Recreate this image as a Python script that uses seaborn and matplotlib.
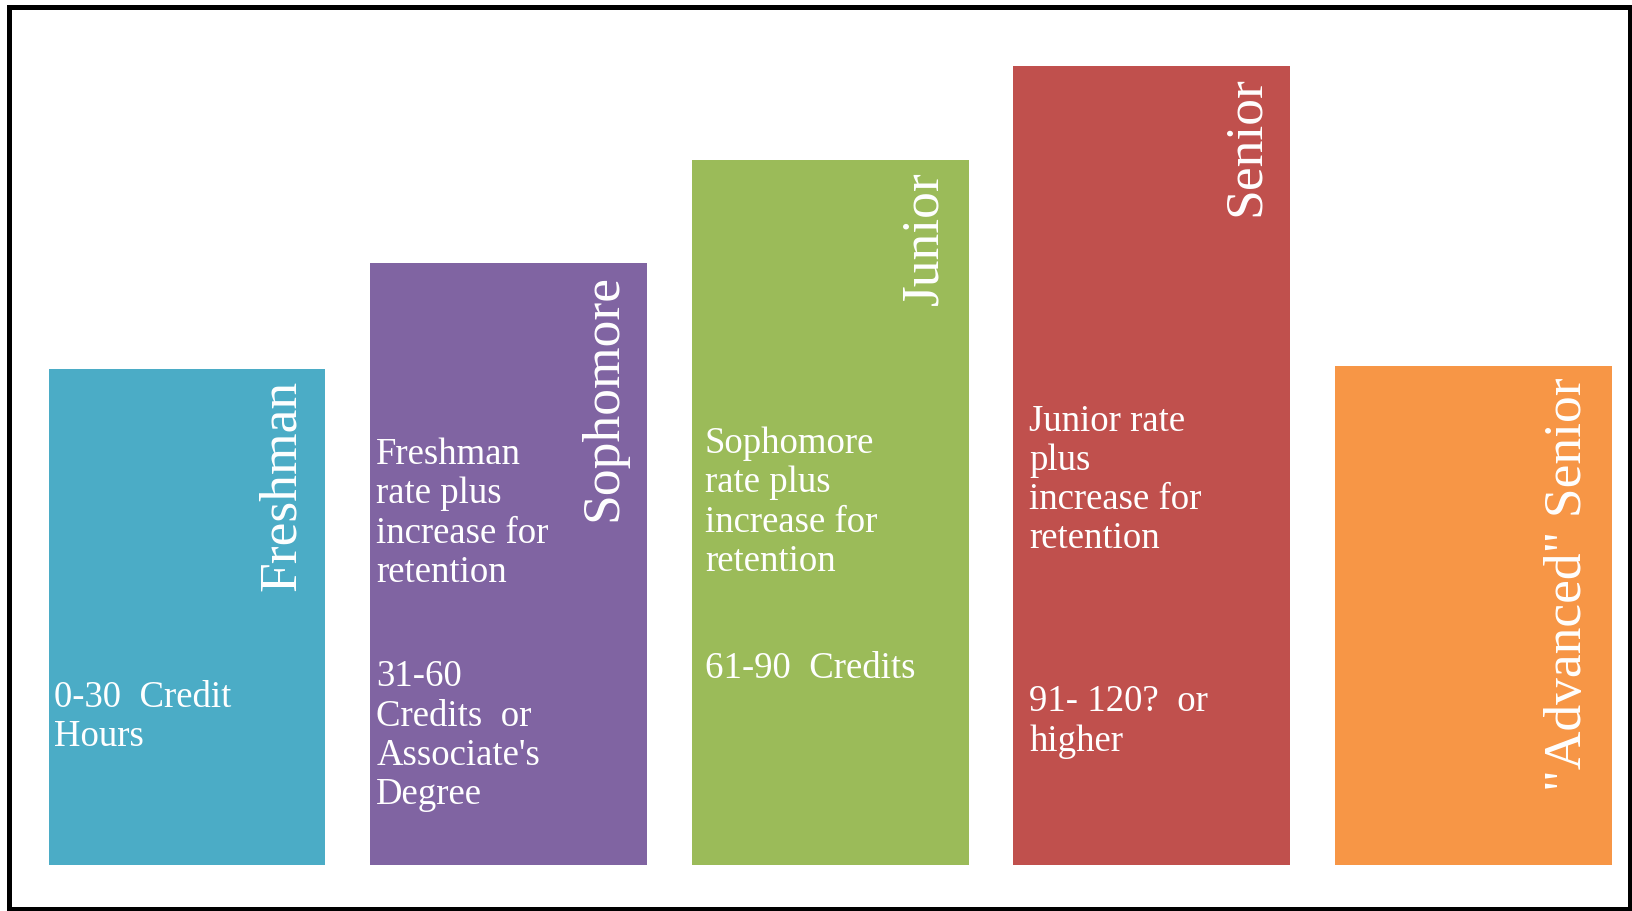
import matplotlib
matplotlib.use('Agg')
import matplotlib.pyplot as plt
from matplotlib.patches import Rectangle
import seaborn as sns
import pandas as pd

# Class standing blocks, height relative to the tallest block (= 100)
levels = ['Freshman', 'Sophomore', 'Junior', 'Senior', '"Advanced" Senior']
heights = [62.0, 75.3, 88.2, 100.0, 62.4]
colors = ['#4BACC6', '#8064A2', '#9BBB59', '#C0504D', '#F79646']

# Notes written inside each block
rate_notes = ['',
              'Freshman\nrate plus\nincrease for\nretention',
              'Sophomore\nrate plus\nincrease for\nretention',
              'Junior rate\nplus\nincrease for\nretention',
              '']
credit_notes = ['0-30  Credit\nHours',
                "31-60\nCredits  or\nAssociate's\nDegree",
                '61-90  Credits',
                '91- 120?  or\nhigher',
                '']

# layout of the notes (baseline height of the last line, left padding in px)
rate_y = [None, 35.4, 36.8, 39.6, None]
credit_y = [14.9, 7.6, 23.4, 14.3, None]
note_pad = [5, 6, 13, 16, 0]

W, H, DPI = 1632, 911, 100
PT = 72 / DPI  # points per pixel
bar_w = 0.861

sns.set_style('white')
plt.rcParams['font.family'] = ['Liberation Serif', 'DejaVu Serif']

df = pd.DataFrame({'level': levels, 'height': heights})

fig = plt.figure(figsize=(W / DPI, H / DPI), dpi=DPI)
ax = fig.add_axes([0, 0, 1, 1])
sns.barplot(data=df, x='level', y='height', hue='level', palette=colors,
            order=levels, hue_order=levels, width=bar_w, saturation=1,
            legend=False, linewidth=0, ax=ax)

ax.set_xlim(-0.5815, 4.493)
ax.set_ylim(-5.75, 108.2)
ax.axis('off')

for i, (name, h) in enumerate(zip(levels, heights)):
    # vertical title in the top right corner of the block
    ax.annotate(name, xy=(i + bar_w / 2, h), xytext=(-31 * PT, -11 * PT),
                textcoords='offset points', rotation=90, rotation_mode='anchor',
                ha='right', va='baseline', color='white', fontsize=38.5)
    for text, y in ((rate_notes[i], rate_y[i]), (credit_notes[i], credit_y[i])):
        if text:
            ax.annotate(text, xy=(i - bar_w / 2, y), xytext=(note_pad[i] * PT, 0),
                        textcoords='offset points', ha='left', va='baseline',
                        color='white', fontsize=26.5, linespacing=1.18)

# black frame around the picture
fig.add_artist(Rectangle((9 / W, 2.5 / H), (1629.5 - 9) / W, (904.5 - 2.5) / H,
                         transform=fig.transFigure, fill=False,
                         edgecolor='black', linewidth=5 * PT))

fig.savefig('out.png', dpi=DPI)
